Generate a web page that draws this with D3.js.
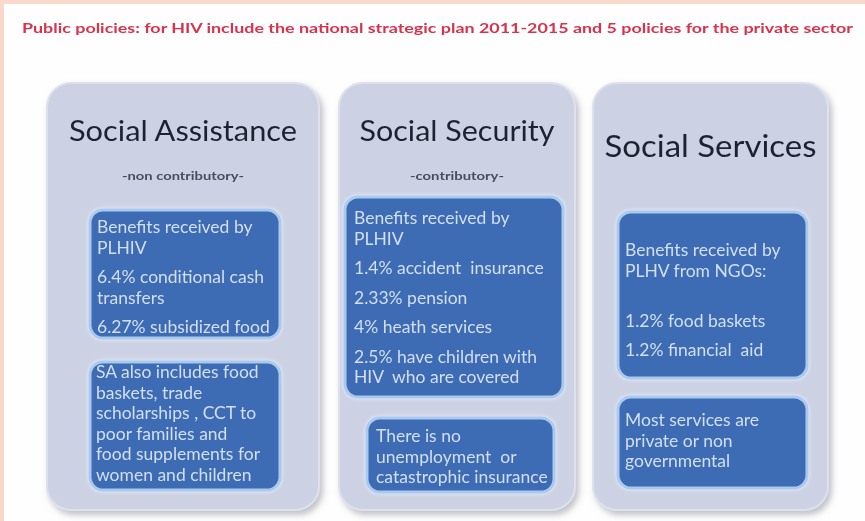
<!DOCTYPE html>
<html>
<head>
<meta charset="utf-8">
<script src="https://cdn.jsdelivr.net/npm/d3@7"></script>
<style>
  html, body { margin: 0; padding: 0; background: #fff; }
  svg { display: block; font-family: Lato, "Open Sans", sans-serif; }
</style>
</head>
<body>
<div id="chart"></div>
<script>
    const width = 865
    const height = 521

    // text content
    const pageTitle = "Public policies: for HIV include the national strategic plan 2011-2015 and 5 policies for the private sector"
    const pillarTitles = ["Social Assistance", "Social Security", "Social Services"]
    const pillarNotes = ["-non contributory-", "-contributory-", ""]

    // each box is a list of paragraphs, each paragraph a list of lines
    const assistanceBoxes = [
      [["Benefits received by", "PLHIV"], ["6.4% conditional cash", "transfers"], ["6.27% subsidized food"]],
      [["SA also includes food", "baskets, trade", "scholarships , CCT to", "poor families and", "food supplements for", "women and children"]]
    ]
    const securityBoxes = [
      [["Benefits received by", "PLHIV"], ["1.4% accident  insurance"], ["2.33% pension"], ["4% heath services"], ["2.5% have children with", "HIV  who are covered"]],
      [["There is no", "unemployment  or", "catastrophic insurance"]]
    ]
    const servicesBoxes = [
      [["Benefits received by", "PLHV from NGOs:", ""], ["1.2% food baskets"], ["1.2% financial  aid"]],
      [["Most services are", "private or non", "governmental"]]
    ]

    // layout
    const panelTop = 83
    const panelBottom = 510
    const panelLayout = [
      { x: 47, w: 272, titleY: 131, titleSize: 28, titleW: 228, noteW: 122,
        boxes: [{ x: 90, y: 210, w: 190, h: 128, first: 17, pad: 7 }, { x: 90, y: 362, w: 190, h: 128, first: 10, pad: 6 }] },
      { x: 339, w: 236, titleY: 131, titleSize: 28, titleW: 195, noteW: 94,
        boxes: [{ x: 345, y: 197, w: 218, h: 200, first: 21, pad: 9 }, { x: 367, y: 418, w: 187, h: 74, first: 18, pad: 9 }] },
      { x: 593, w: 235, titleY: 146, titleSize: 30, titleW: 212, noteW: 0,
        boxes: [{ x: 618, y: 212, w: 189, h: 166, first: 38, pad: 7 }, { x: 618, y: 397, w: 189, h: 91, first: 23, pad: 7 }] }
    ]
    const lineH = 20.5
    const paraGap = 9

    const pillars = pillarTitles.map((t, i) => ({
      title: t,
      note: pillarNotes[i],
      boxes: [assistanceBoxes, securityBoxes, servicesBoxes][i],
      layout: panelLayout[i]
    }))

    const svg = d3.select("#chart")
      .append("svg")
      .attr("width", width)
      .attr("height", height)

    const defs = svg.append("defs")
    const shadow = defs.append("filter").attr("id", "shadow")
      .attr("x", "-10%").attr("y", "-10%").attr("width", "130%").attr("height", "130%")
    shadow.append("feDropShadow")
      .attr("dx", 3).attr("dy", 4).attr("stdDeviation", 3)
      .attr("flood-color", "#8a8f9c").attr("flood-opacity", 0.55)
    const glow = defs.append("filter").attr("id", "glow")
      .attr("x", "-10%").attr("y", "-10%").attr("width", "120%").attr("height", "120%")
    glow.append("feDropShadow")
      .attr("dx", 0).attr("dy", 0).attr("stdDeviation", 2)
      .attr("flood-color", "#eef4ff").attr("flood-opacity", 0.9)
    const soft = defs.append("filter").attr("id", "soft")
    soft.append("feGaussianBlur").attr("stdDeviation", 0.35)

    // pink frame
    svg.append("rect").attr("width", width).attr("height", height).attr("fill", "#fbd9ca")
    svg.append("rect").attr("x", 4).attr("y", 4).attr("width", width).attr("height", height).attr("fill", "#fffefe")

    svg.append("text")
      .attr("x", 22).attr("y", 33)
      .attr("textLength", 831)
      .attr("lengthAdjust", "spacingAndGlyphs")
      .attr("font-size", 13.5)
      .attr("font-weight", "bold")
      .attr("fill", "#d9324e")
      .attr("filter", "url(#soft)")
      .text(pageTitle)

    const panel = svg.selectAll("g.pillar")
      .data(pillars)
      .join("g")
      .attr("class", "pillar")

    panel.append("rect")
      .attr("x", d => d.layout.x)
      .attr("y", panelTop)
      .attr("width", d => d.layout.w)
      .attr("height", panelBottom - panelTop)
      .attr("rx", 24)
      .attr("fill", "#ccd2e3")
      .attr("stroke", "#dde1ec")
      .attr("stroke-width", 2)
      .attr("filter", "url(#shadow)")

    panel.append("text")
      .attr("x", d => d.layout.x + d.layout.w / 2)
      .attr("y", d => d.layout.titleY)
      .attr("dy", "0.35em")
      .attr("text-anchor", "middle")
      .attr("font-size", d => d.layout.titleSize)
      .attr("textLength", d => d.layout.titleW)
      .attr("lengthAdjust", "spacingAndGlyphs")
      .attr("fill", "#1f2333")
      .attr("filter", "url(#soft)")
      .text(d => d.title)

    panel.filter(d => d.note !== "")
      .append("text")
      .attr("x", d => d.layout.x + d.layout.w / 2)
      .attr("y", 176)
      .attr("dy", "0.35em")
      .attr("text-anchor", "middle")
      .attr("font-size", 11)
      .attr("font-weight", "bold")
      .attr("textLength", d => d.layout.noteW)
      .attr("lengthAdjust", "spacingAndGlyphs")
      .attr("fill", "#4a4d58")
      .attr("filter", "url(#soft)")
      .text(d => d.note)

    const box = panel.selectAll("g.box")
      .data(d => d.boxes.map((paras, j) => ({ paras, lay: d.layout.boxes[j] })))
      .join("g")
      .attr("class", "box")

    box.append("rect")
      .attr("x", d => d.lay.x)
      .attr("y", d => d.lay.y)
      .attr("width", d => d.lay.w)
      .attr("height", d => d.lay.h)
      .attr("rx", 13)
      .attr("fill", "#3d6cb4")
      .attr("stroke", "#a9c9ef")
      .attr("stroke-width", 3)
      .attr("filter", "url(#glow)")

    box.selectAll("text")
      .data(d => {
        const out = []
        let y = d.lay.y + d.lay.first
        d.paras.forEach((p, k) => {
          if (k > 0) y += paraGap
          p.forEach(line => {
            out.push({ text: line, x: d.lay.x + d.lay.pad, y })
            y += lineH
          })
        })
        return out
      })
      .join("text")
      .attr("x", d => d.x)
      .attr("y", d => d.y)
      .attr("dy", "0.35em")
      .attr("font-size", 17.5)
      .attr("fill", "#d3dff2")
      .attr("filter", "url(#soft)")
      .attr("xml:space", "preserve")
      .style("white-space", "pre")
      .text(d => d.text)
</script>
</body>
</html>
